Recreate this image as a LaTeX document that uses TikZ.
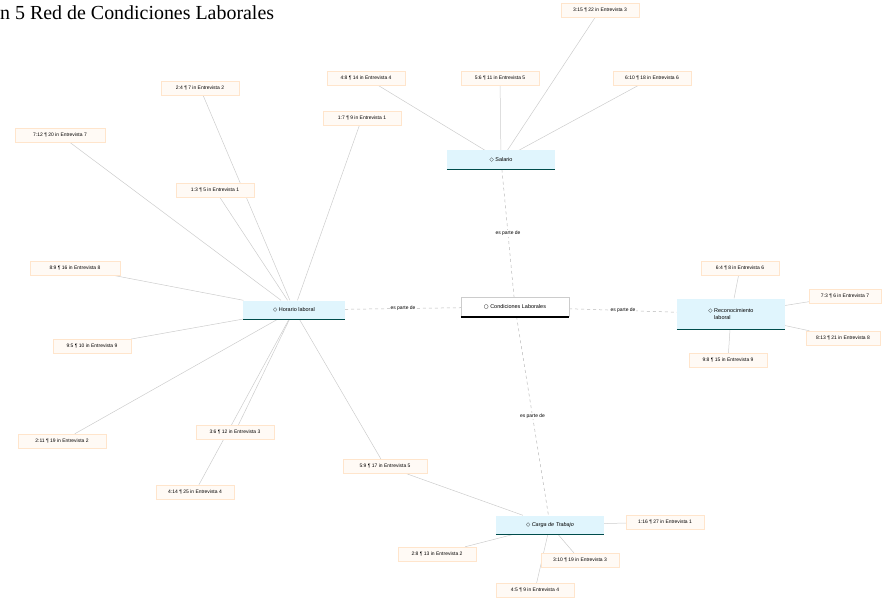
\documentclass[tikz,border=0pt]{standalone}
\usepackage{fontspec}
\setmainfont{Liberation Serif}
\newfontfamily\atl{Liberation Sans}
\newfontfamily\sym{DejaVu Sans}
\usetikzlibrary{backgrounds}

\begin{document}
\begin{tikzpicture}
		[x=1bp,y=-1bp,
		quote/.style={draw=orange!20,fill=orange!4,inner sep=2pt,
			minimum width=78bp,minimum height=14bp,
			font=\atl\fontsize{5}{6}\selectfont},
		code/.style={fill=cyan!12,inner sep=2pt,minimum width=108bp,
			minimum height=19bp,font=\atl\fontsize{5.5}{6.5}\selectfont,
			align=left},
		link/.style={draw=gray!40,line width=.5pt},
		rel/.style={draw=gray!55,dashed,line width=.5pt},
		lbl/.style={fill=white,inner sep=1pt,
			font=\atl\fontsize{5}{6}\selectfont}]
		\useasboundingbox (0,0) rectangle (896,603);
		% titulo
		\node[anchor=base west,inner sep=0pt,font=\fontsize{20}{24}\selectfont]
			(titulo) at (0,20) {n 5 Red de Condiciones Laborales};
		% codigos
		\node[code,fill=white,draw=gray!40] (cl) at (515,307)
			{{\sym\char"25CB}\ Condiciones Laborales};
		\node[code] (sal) at (501,160) {{\sym\char"25C7}\ Salario};
		\node[code,minimum width=102bp] (hor) at (294,310)
			{{\sym\char"25C7}\ Horario laboral};
		\node[code,minimum height=31bp] (rec) at (731,314)
			{{\sym\char"25C7}\ Reconocimiento\\\hphantom{{\sym\char"25C7}\ }laboral};
		\node[code] (car) at (550,525) {{\sym\char"25C7}\ \textit{Carga de Trabajo}};
		\draw[line width=2pt] (cl.south west) -- (cl.south east);
		\foreach \c in {sal,hor,rec,car}
			\draw[teal!60!black,line width=1.5pt] (\c.south west) -- (\c.south east);
		% citas
		\node[quote] (q1) at (600,10) {3:15 ¶ 22 in Entrevista 3};
		\node[quote] (q2) at (366,78) {4:8 ¶ 14 in Entrevista 4};
		\node[quote] (q3) at (500,78) {5:6 ¶ 11 in Entrevista 5};
		\node[quote] (q4) at (652,78) {6:10 ¶ 18 in Entrevista 6};
		\node[quote] (q5) at (200,88) {2:4 ¶ 7 in Entrevista 2};
		\node[quote,minimum width=90bp] (q6) at (60,135) {7:12 ¶ 20 in Entrevista 7};
		\node[quote] (q7) at (362,118) {1:7 ¶ 9 in Entrevista 1};
		\node[quote] (q8) at (215,190) {1:3 ¶ 5 in Entrevista 1};
		\node[quote,minimum width=90bp] (q9) at (75,268) {8:9 ¶ 16 in Entrevista 8};
		\node[quote] (q10) at (92,346) {9:5 ¶ 10 in Entrevista 9};
		\node[quote,minimum width=88bp] (q11) at (62,441) {2:11 ¶ 19 in Entrevista 2};
		\node[quote] (q12) at (235,432) {3:6 ¶ 12 in Entrevista 3};
		\node[quote] (q13) at (195,492) {4:14 ¶ 25 in Entrevista 4};
		\node[quote,minimum width=84bp] (q14) at (385,466) {5:9 ¶ 17 in Entrevista 5};
		\node[quote] (q15) at (740,268) {6:4 ¶ 8 in Entrevista 6};
		\node[quote,minimum width=72bp] (q16) at (845,296) {7:3 ¶ 6 in Entrevista 7};
		\node[quote,minimum width=74bp] (q17) at (843,338) {8:13 ¶ 21 in Entrevista 8};
		\node[quote] (q18) at (728,360) {9:8 ¶ 15 in Entrevista 9};
		\node[quote] (q19) at (665,522) {1:16 ¶ 27 in Entrevista 1};
		\node[quote] (q20) at (437,554) {2:8 ¶ 13 in Entrevista 2};
		\node[quote] (q21) at (580,560) {3:10 ¶ 19 in Entrevista 3};
		\node[quote] (q22) at (535,590) {4:5 ¶ 9 in Entrevista 4};
		% relaciones
		\begin{scope}[on background layer]
			\foreach \q in {q1,q2,q3,q4}
				\draw[link] (\q) -- (sal);
			\foreach \q in {q5,q6,q7,q8,q9,q10,q11,q12,q13,q14}
				\draw[link] (\q) -- (hor);
			\foreach \q in {q15,q16,q17,q18}
				\draw[link] (\q) -- (rec);
			\foreach \q in {q14,q19,q20,q21,q22}
				\draw[link] (\q) -- (car);
			\draw[rel] (sal) -- node[lbl] {es parte de} (cl);
			\draw[rel] (hor) -- node[lbl] {es parte de} (cl);
			\draw[rel] (cl) -- node[lbl] {es parte de} (rec);
			\draw[rel] (cl) -- node[lbl] {es parte de} (car);
		\end{scope}
	\end{tikzpicture}
\end{document}
